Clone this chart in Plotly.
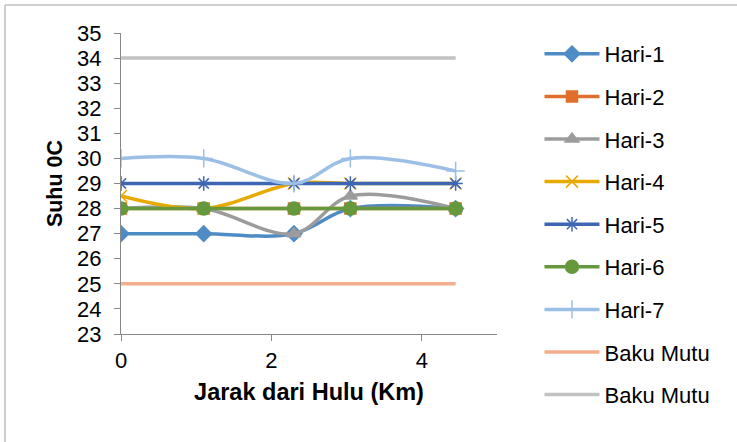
import plotly.graph_objects as go

# Sampling distances along the river (km from the upstream point)
jarak = [0, 1.1, 2.3, 3.05, 4.45]

# Daily water temperature (deg C) at each station
hari_1 = [27, 27, 27, 28, 28]
hari_2 = [28, 28, 28, 28, 28]
hari_3 = [28, 28, 27, 28.5, 28]
hari_4 = [28.5, 28, 29, 29, 29]
hari_5 = [29, 29, 29, 29, 29]
hari_6 = [28, 28, 28, 28, 28]
hari_7 = [30, 30, 29, 30, 29.5]

# Quality standard limits
baku_mutu_bawah = [25, 25, 25, 25, 25]
baku_mutu_atas = [34, 34, 34, 34, 34]

series = [
    ("Hari-1", hari_1, "#4F8BC4", "diamond", 12),
    ("Hari-2", hari_2, "#E06F2C", "square", 11),
    ("Hari-3", hari_3, "#9C9C9C", "triangle-up", 12),
    ("Hari-4", hari_4, "#E8AA00", "x-thin-open", 12),
    ("Hari-5", hari_5, "#3F66B3", "asterisk-open", 12),
    ("Hari-6", hari_6, "#66993C", "circle", 13),
    ("Hari-7", hari_7, "#9CC0E5", "cross-thin-open", 13),
    ("Baku Mutu", baku_mutu_bawah, "#F4AE8E", None, 0),
    ("Baku Mutu", baku_mutu_atas, "#C2C2C2", None, 0),
]

font_family = "Liberation Sans, Arial, sans-serif"
axis_color = "#888888"

fig = go.Figure()
for i, (name, vals, color, symbol, size) in enumerate(series):
    kw = dict(
        x=jarak,
        y=vals,
        name=name,
        legendgroup=f"g{i}",
        line=dict(color=color, width=3.5, shape="spline", smoothing=1),
    )
    if symbol:
        kw["mode"] = "lines+markers"
        kw["marker"] = dict(symbol=symbol, size=size, color=color,
                            line=dict(color=color, width=1.5))
    else:
        kw["mode"] = "lines"
    fig.add_trace(go.Scatter(**kw))

# Chart frame (left and top edges)
frame_color = "#BFBFBF"
fig.add_shape(type="line", xref="paper", yref="paper",
              x0=-0.3085, x1=1.7, y0=1.093, y1=1.093,
              line=dict(color=frame_color, width=1.5))
fig.add_shape(type="line", xref="paper", yref="paper",
              x0=-0.3085, x1=-0.3085, y0=-0.4, y1=1.093,
              line=dict(color=frame_color, width=1.5))

fig.update_layout(
    width=737,
    height=442,
    margin=dict(l=121, r=240, t=33, b=108),
    paper_bgcolor="white",
    plot_bgcolor="white",
    font=dict(family=font_family, size=22, color="#000000"),
    showlegend=True,
    legend=dict(
        x=1.113, xanchor="left",
        y=1.0, yanchor="top",
        font=dict(size=22),
        itemwidth=55,
        tracegroupgap=11,
        maxheight=440,
        bgcolor="rgba(0,0,0,0)",
    ),
    xaxis=dict(
        range=[0, 5],
        dtick=2,
        tick0=0,
        showgrid=False,
        zeroline=False,
        showline=True,
        linecolor=axis_color,
        linewidth=1,
        ticks="outside",
        ticklen=6,
        tickcolor=axis_color,
        tickfont=dict(size=22),
        ticklabelstandoff=1,
        title=dict(text="<b>Jarak dari Hulu (Km)</b>", font=dict(size=23.5), standoff=11),
    ),
    yaxis=dict(
        range=[23, 35],
        dtick=1,
        showgrid=False,
        zeroline=False,
        showline=True,
        linecolor=axis_color,
        linewidth=1,
        ticks="outside",
        ticklen=6,
        tickcolor=axis_color,
        tickfont=dict(size=22),
        ticklabelstandoff=8,
        title=dict(text="<b>Suhu 0C</b>", font=dict(size=21.5), standoff=8),
    ),
)

fig.write_html("out.html")
